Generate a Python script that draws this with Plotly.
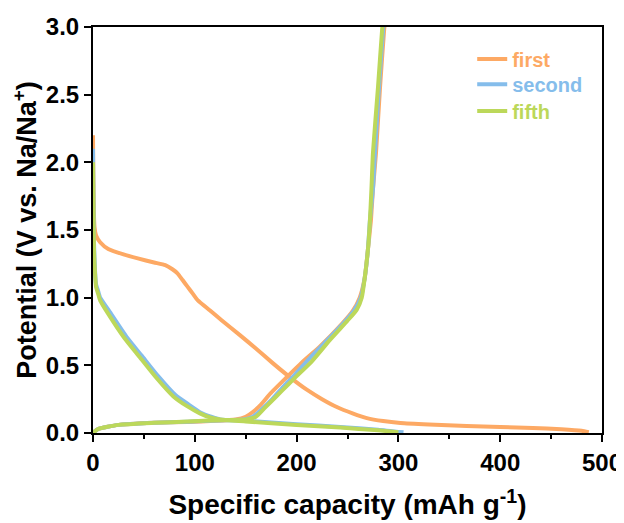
import plotly.graph_objects as go

# ---------------- data ----------------
first_dis_cap = [0, 0.3, 0.8, 1.5, 3, 7, 15, 30, 44, 60, 71, 78, 83, 88, 93, 98, 103, 115, 126, 144, 160, 176, 193, 210, 225, 240, 255, 269, 285, 302, 330, 367, 400, 432, 460, 480, 487]
first_dis_v = [2.2, 1.9, 1.65, 1.52, 1.46, 1.41, 1.36, 1.32, 1.29, 1.26, 1.24, 1.21, 1.18, 1.13, 1.08, 1.03, 0.98, 0.905, 0.835, 0.725, 0.625, 0.52, 0.415, 0.32, 0.25, 0.19, 0.145, 0.11, 0.088, 0.074, 0.063, 0.052, 0.045, 0.037, 0.028, 0.016, 0.005]
first_chg_cap = [0, 5, 25, 60, 93, 120, 140, 150, 157, 165, 174, 190, 205, 223, 245, 255, 262, 267, 270, 273, 275, 278, 282, 286, 287]
first_chg_v = [0, 0.03, 0.06, 0.075, 0.082, 0.09, 0.10, 0.12, 0.155, 0.21, 0.29, 0.41, 0.52, 0.64, 0.81, 0.90, 1.0, 1.15, 1.35, 1.57, 1.8, 2.07, 2.56, 2.98, 3.05]

second_dis_cap = [0, 0.5, 1, 2, 3, 5, 7, 16, 33, 48, 64, 81, 94, 106, 116, 125, 150, 200, 243, 280, 305]
second_dis_v = [2.1, 1.7, 1.4, 1.2, 1.1, 1.05, 1.0, 0.90, 0.71, 0.57, 0.42, 0.28, 0.21, 0.15, 0.12, 0.10, 0.09, 0.065, 0.045, 0.025, 0.005]
second_chg_cap = [0, 5, 25, 60, 93, 123, 148, 157, 165, 176, 188, 197, 210, 228, 247, 256, 263, 267, 270, 272, 275, 277, 281, 285, 286]
second_chg_v = [0, 0.03, 0.06, 0.075, 0.083, 0.093, 0.10, 0.12, 0.17, 0.25, 0.35, 0.42, 0.53, 0.67, 0.82, 0.90, 1.0, 1.15, 1.35, 1.57, 1.8, 2.07, 2.56, 2.98, 3.05]

fifth_dis_cap = [0, 0.5, 1, 2, 3, 5, 7, 15, 31, 46, 62, 79, 92, 105, 115, 125, 150, 200, 243, 280, 300]
fifth_dis_v = [2.0, 1.65, 1.35, 1.18, 1.08, 1.03, 0.98, 0.88, 0.70, 0.56, 0.41, 0.27, 0.20, 0.145, 0.115, 0.10, 0.085, 0.06, 0.04, 0.02, 0.005]
fifth_chg_cap = [0, 5, 25, 60, 93, 125, 150, 160, 168, 180, 192, 200, 215, 233, 250, 259, 264, 267, 270, 272, 273.5, 275, 280, 284, 285]
fifth_chg_v = [0, 0.03, 0.06, 0.075, 0.085, 0.095, 0.10, 0.12, 0.18, 0.27, 0.36, 0.42, 0.53, 0.69, 0.83, 0.91, 1.0, 1.15, 1.35, 1.57, 1.8, 2.07, 2.56, 2.98, 3.05]

series_names = ["first", "second", "fifth"]
series_colors = ["#FDA964", "#85BDEB", "#BCD85A"]

x_ticks = [0, 100, 200, 300, 400, 500]
y_ticks = [0.0, 0.5, 1.0, 1.5, 2.0, 2.5, 3.0]

cycles = [
    (first_dis_cap, first_dis_v, first_chg_cap, first_chg_v),
    (second_dis_cap, second_dis_v, second_chg_cap, second_chg_v),
    (fifth_dis_cap, fifth_dis_v, fifth_chg_cap, fifth_chg_v),
]

FONT = "Liberation Sans, Arial, sans-serif"

fig = go.Figure()
legend_ids = ["legend", "legend2", "legend3"]
for i, (dc, dv, cc, cv) in enumerate(cycles):
    fig.add_trace(go.Scatter(
        x=list(dc) + [None] + list(cc),
        y=list(dv) + [None] + list(cv),
        mode="lines",
        name=series_names[i],
        line=dict(color=series_colors[i], width=4, shape="spline", smoothing=0.5),
        legend=legend_ids[i],
        connectgaps=False,
    ))

axis_common = dict(
    showline=True, linecolor="black", linewidth=2, mirror=True,
    ticks="outside", ticklen=7, tickwidth=2, tickcolor="black",
    showgrid=False, zeroline=False, automargin=False,
    tickfont=dict(family=FONT, size=24, color="black", weight="bold"),
)

fig.update_xaxes(
    range=[0, 500], tickvals=x_ticks,
    minor=dict(dtick=50, ticks="outside", ticklen=4, tickwidth=2, tickcolor="black"),
    title=dict(text="Specific capacity (mAh g<sup>-1</sup>)",
               font=dict(family=FONT, size=28, color="black", weight="bold"), standoff=20),
    **axis_common,
)
fig.update_yaxes(
    range=[0, 3], tickvals=y_ticks, tickformat=".1f",
    title=dict(text="Potential (V vs. Na/Na<sup>+</sup>)",
               font=dict(family=FONT, size=27, color="black", weight="bold"), standoff=8),
    **axis_common,
)

leg_common = dict(bgcolor="rgba(0,0,0,0)", borderwidth=0, xanchor="left", yanchor="middle",
                  itemwidth=30, tracegroupgap=0)
ys = [0.921, 0.859, 0.793]
legs = {}
for i, lid in enumerate(legend_ids):
    legs[lid] = dict(x=0.745, y=ys[i],
                     font=dict(family=FONT, size=20, color=series_colors[i], weight="bold"),
                     **leg_common)

fig.update_layout(
    width=616, height=515,
    margin=dict(l=85, r=22, t=19, b=90, autoexpand=False),
    paper_bgcolor="white", plot_bgcolor="white",
    showlegend=True,
    **legs,
)

fig.write_html("out.html")
